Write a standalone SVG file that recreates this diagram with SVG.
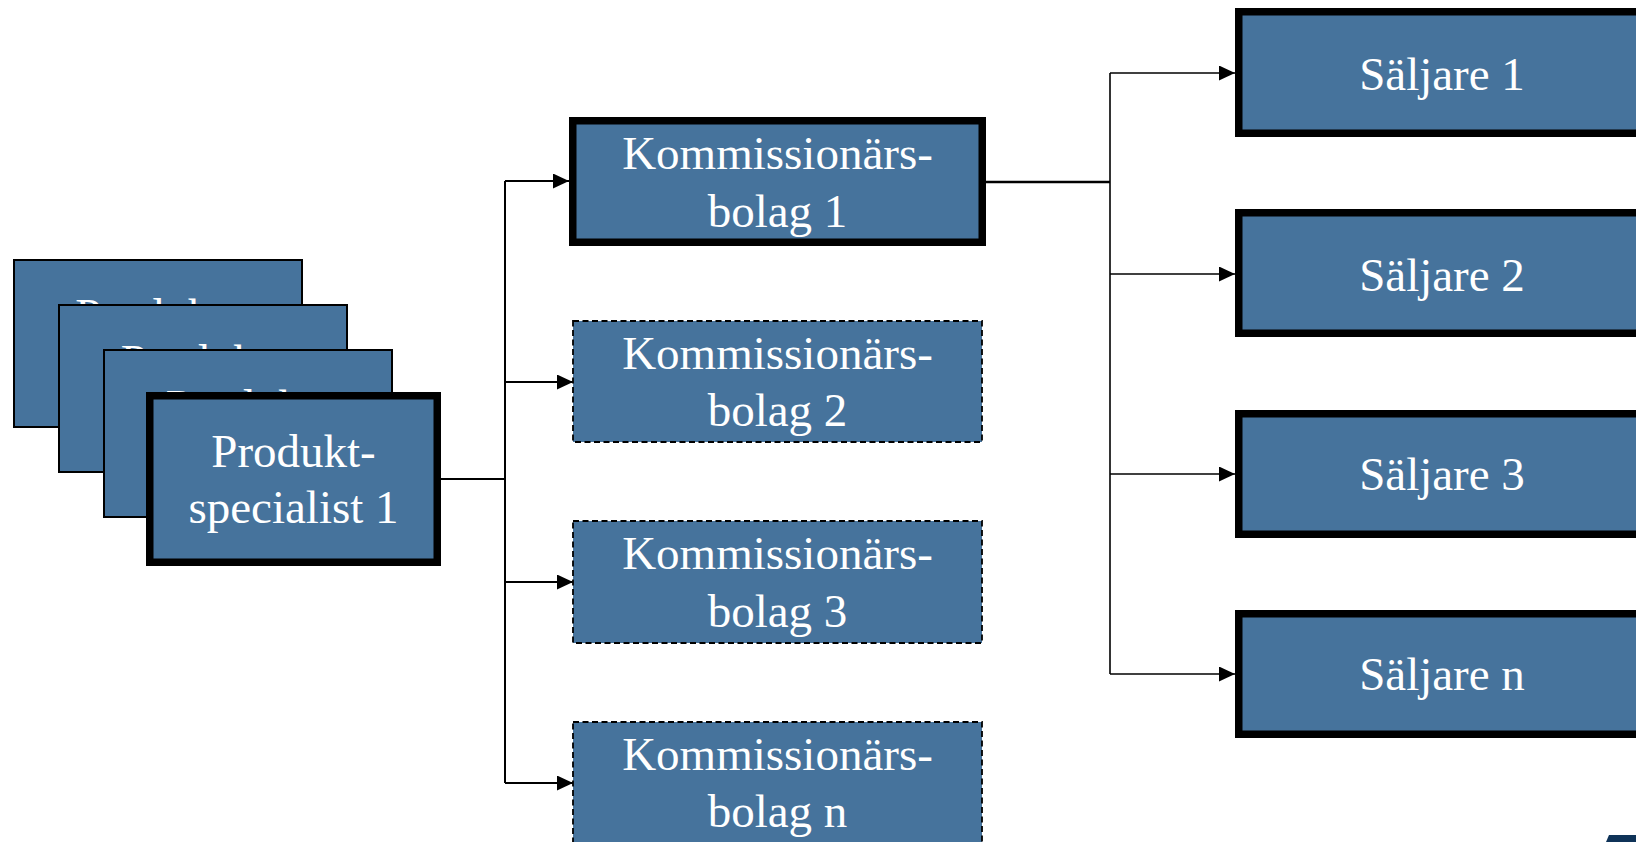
<svg xmlns="http://www.w3.org/2000/svg" width="1636" height="842" viewBox="0 0 1636 842">
<style>
.box{fill:#46739c;stroke:#000;}
.thick{stroke-width:7.5;}
.thin{stroke-width:2;}
.dash{stroke-width:1.8;stroke-dasharray:6 3.5;}
.t{font-family:"Liberation Serif","Times New Roman",serif;font-size:47px;fill:#fff;text-anchor:middle;}
.c{fill:none;stroke:#000;}
</style>
<defs>
<marker id="ah" markerUnits="userSpaceOnUse" markerWidth="17" markerHeight="16" refX="16" refY="7.5" orient="auto">
<path d="M0,0 L16,7.5 L0,15 Z" fill="#000"/>
</marker>
</defs>
<rect width="1636" height="842" fill="#fff"/>
<g id="connectors">
<path class="c" stroke-width="2.2" d="M441,479 H505"/>
<path class="c" stroke-width="2" d="M505,181 V783"/>
<path class="c" stroke-width="2" d="M505,181 H569" marker-end="url(#ah)"/>
<path class="c" stroke-width="2" d="M505,382 H573" marker-end="url(#ah)"/>
<path class="c" stroke-width="2" d="M505,582 H573" marker-end="url(#ah)"/>
<path class="c" stroke-width="2" d="M505,783 H573" marker-end="url(#ah)"/>
<path class="c" stroke-width="2.5" d="M986,182 H1110"/>
<path class="c" stroke-width="1.6" d="M1110,73 V674"/>
<path class="c" stroke-width="1.6" d="M1110,73 H1235" marker-end="url(#ah)"/>
<path class="c" stroke-width="1.6" d="M1110,274 H1235" marker-end="url(#ah)"/>
<path class="c" stroke-width="1.6" d="M1110,474 H1235" marker-end="url(#ah)"/>
<path class="c" stroke-width="1.6" d="M1110,674 H1235" marker-end="url(#ah)"/>
</g>
<g id="produkt4">
<rect class="box thin" x="14" y="260" width="288" height="167"/>
<text class="t" x="157.5" y="331">Produkt-</text>
</g>
<g id="produkt3">
<rect class="box thin" x="59" y="305" width="288" height="167"/>
<text class="t" x="203" y="377">Produkt-</text>
</g>
<g id="produkt2">
<rect class="box thin" x="104" y="350" width="288" height="167"/>
<text class="t" x="248" y="422">Produkt-</text>
</g>
<g id="produkt1">
<rect class="box thick" x="149.75" y="395.75" width="287.5" height="166.5"/>
<text class="t" x="293.5" y="467">Produkt-</text>
<text class="t" x="293.5" y="523">specialist 1</text>
</g>
<g id="komm1">
<rect class="box thick" x="572.75" y="120.75" width="409.5" height="121.5"/>
<text class="t" x="777.5" y="169">Kommissionärs-</text>
<text class="t" x="777.5" y="227">bolag 1</text>
</g>
<g id="komm2">
<rect class="box dash" x="573" y="321" width="409" height="121"/>
<text class="t" x="777.5" y="369">Kommissionärs-</text>
<text class="t" x="777.5" y="426">bolag 2</text>
</g>
<g id="komm3">
<rect class="box dash" x="573" y="521" width="409" height="122"/>
<text class="t" x="777.5" y="569">Kommissionärs-</text>
<text class="t" x="777.5" y="627">bolag 3</text>
</g>
<g id="kommn">
<rect class="box dash" x="573" y="722" width="409" height="122"/>
<text class="t" x="777.5" y="770">Kommissionärs-</text>
<text class="t" x="777.5" y="827">bolag n</text>
</g>
<g id="saljare1">
<rect class="box thick" x="1238.75" y="11.75" width="430" height="121.5"/>
<text class="t" x="1442" y="90">Säljare 1</text>
</g>
<g id="saljare2">
<rect class="box thick" x="1238.75" y="212.75" width="430" height="120.5"/>
<text class="t" x="1442" y="291">Säljare 2</text>
</g>
<g id="saljare3">
<rect class="box thick" x="1238.75" y="413.75" width="430" height="120.5"/>
<text class="t" x="1442" y="490">Säljare 3</text>
</g>
<g id="saljaren">
<rect class="box thick" x="1238.75" y="613.75" width="430" height="120.5"/>
<text class="t" x="1442" y="690">Säljare n</text>
</g>
<polygon points="1606,842 1609,835 1636,835 1636,842" fill="#0f3358"/>
</svg>
